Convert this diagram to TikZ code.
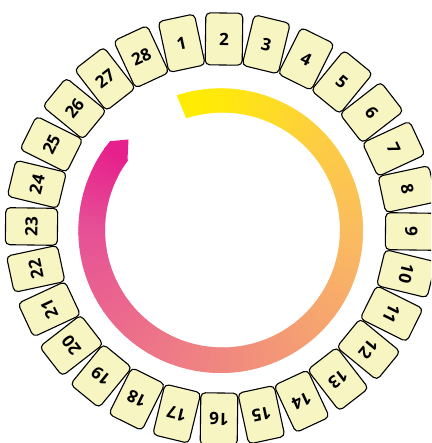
\documentclass[tikz,border=0pt]{standalone}
\usepackage{fontspec}
\setmainfont{Open Sans}
\usetikzlibrary{calc}
\definecolor{boxfill}{RGB}{247,245,193}
\definecolor{g0}{RGB}{255,237,0}
\definecolor{g1}{RGB}{255,232,12}
\definecolor{g2}{RGB}{253,206,65}
\definecolor{g3}{RGB}{250,188,95}
\definecolor{g4}{RGB}{246,163,112}
\definecolor{g5}{RGB}{240,135,128}
\definecolor{g6}{RGB}{236,108,140}
\definecolor{g7}{RGB}{230,80,150}
\definecolor{g8}{RGB}{230,32,140}
\begin{document}
\begin{tikzpicture}[x=1pt,y=1pt,
  daybox/.style={draw=black, line width=1.1pt, rounded corners=4.5pt, fill=boxfill,
    minimum width=37pt, minimum height=52pt, inner sep=0pt,
    font=\fontsize{17}{17}\selectfont\bfseries}]
\useasboundingbox (0,0) rectangle (431,443);
\clip (0,0) rectangle (431,443);
\coordinate (C) at (221.5,214);
\coordinate (O1) at (220.7,212.3);
\coordinate (O2) at (222.5,213);
\coordinate (tip) at (128.5,303.5);
% gradient ring
\foreach \sa/\sb/\ca/\cb in {0/18/g0/g1,18/63/g1/g2,63/108/g2/g3,108/153/g3/g4,153/198/g4/g5,198/243/g5/g6,243/288/g6/g7,288/324/g7/g8}{
  \pgfmathtruncatemacro\sbm{\sb-1}
  \foreach \s in {\sa,...,\sbm}{
    \pgfmathtruncatemacro\p{(\s-\sa)/(\sb-\sa)*100}
    \pgfmathsetmacro\a{108-\s}
    \pgfmathsetmacro\b{\a-1.6}
    \fill[fill={\cb!\p!\ca}] ($(O1)+(\a:142.3)$) arc[start angle=\a, end angle=\b, radius=142.3]
      -- ($(O2)+(\b:117.5)$) arc[start angle=\b, end angle=\a, radius=117.5] -- cycle;
  }
}
\fill[g8] ($(O1)+(-215:142.3)$) arc[start angle=-215, end angle=-219, radius=142.3]
  -- (tip) -- ($(O2)+(-216:117.5)$) arc[start angle=-216, end angle=-215, radius=117.5] -- cycle;
% day boxes
\foreach \k in {1,...,28}{
  \pgfmathsetmacro\th{89.25-(\k-2)*360/28}
  \node[daybox, rotate=\th-90] (b\k) at ($(C)+(\th:190)$) {\k};
}
\end{tikzpicture}
\end{document}
